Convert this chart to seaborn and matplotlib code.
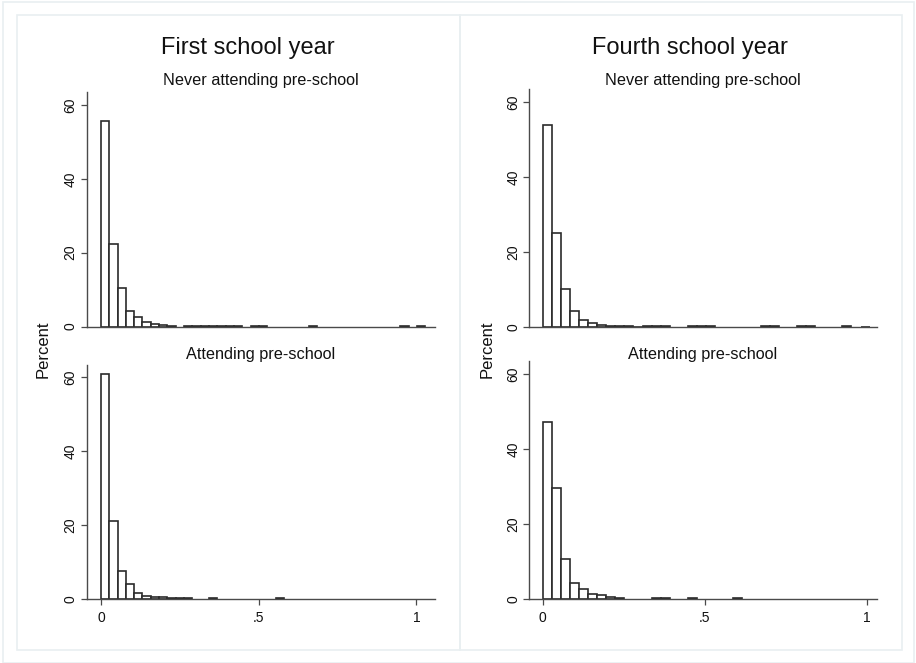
import numpy as np
import pandas as pd
import matplotlib
matplotlib.use("Agg")
import matplotlib.pyplot as plt
from matplotlib.patches import Rectangle
import seaborn as sns

# ---- data: percent of pupils per bin ----
column_titles = ["First school year", "Fourth school year"]
row_titles = ["Never attending pre-school", "Attending pre-school"]

# bin widths (same bins used within a column)
first_bin_width = 0.02636
fourth_bin_width = 0.02803
first_n_bins = 39
fourth_n_bins = 36

first_never = [55.7, 22.4, 10.3, 4.1, 2.6, 1.3, 0.55, 0.3, 0.25, 0.0,
               0.15, 0.1, 0.15, 0.1, 0.1, 0.15, 0.1, 0.0, 0.15, 0.1,
               0.0, 0.0, 0.0, 0.0, 0.0, 0.1, 0.0, 0.0, 0.0, 0.0,
               0.0, 0.0, 0.0, 0.0, 0.0, 0.0, 0.1, 0.0, 0.1]
first_attending = [60.8, 21.1, 7.7, 4.0, 1.5, 0.8, 0.6, 0.5, 0.2, 0.2,
                   0.15, 0.0, 0.0, 0.2, 0.0, 0.0, 0.0, 0.0, 0.0, 0.0,
                   0.0, 0.15, 0.0, 0.0, 0.0, 0.0, 0.0, 0.0, 0.0, 0.0,
                   0.0, 0.0, 0.0, 0.0, 0.0, 0.0, 0.0, 0.0, 0.0]
fourth_never = [53.9, 25.2, 10.2, 4.4, 1.9, 1.2, 0.6, 0.3, 0.2, 0.15,
                0.1, 0.15, 0.15, 0.15, 0.0, 0.0, 0.15, 0.15, 0.15, 0.0,
                0.0, 0.0, 0.0, 0.0, 0.15, 0.15, 0.0, 0.0, 0.15, 0.15,
                0.0, 0.0, 0.0, 0.15, 0.0, 0.05]
fourth_attending = [47.3, 29.7, 10.8, 4.2, 2.8, 1.3, 1.0, 0.6, 0.3, 0.0,
                    0.0, 0.0, 0.2, 0.2, 0.0, 0.0, 0.2, 0.0, 0.0, 0.0,
                    0.0, 0.15, 0.0, 0.0, 0.0, 0.0, 0.0, 0.0, 0.0, 0.0,
                    0.0, 0.0, 0.0, 0.0, 0.0, 0.0]

y_ticks = [0, 20, 40, 60]
x_ticks = [0, 0.5, 1]
x_tick_labels = ["0", ".5", "1"]

# ---- style ----
sns.set_style("ticks")
plt.rcParams["font.family"] = ["Liberation Sans", "DejaVu Sans"]

W, H = 916, 663
fig = plt.figure(figsize=(W / 100, H / 100), dpi=100)
fig.patch.set_facecolor("white")


def rect(x0, y0, x1, y1):
    return [x0 / W, 1 - y1 / H, (x1 - x0) / W, (y1 - y0) / H]


frame_col = "#e9eff1"
fig.patches.append(Rectangle((3 / W, 0), (914 - 3) / W, 1 - 2 / H,
                             transform=fig.transFigure, fill=False,
                             edgecolor=frame_col, lw=1.2))
for (x0, x1) in [(17, 460), (460, 902)]:
    fig.patches.append(Rectangle((x0 / W, 1 - 650 / H), (x1 - x0) / W,
                                 (650 - 15) / H, transform=fig.transFigure,
                                 fill=False, edgecolor=frame_col, lw=1.2))

panels = [
    # column, row, heights, bin width, n bins, axes pixel box, xlim, ylim top
    (0, 0, first_never, first_bin_width, first_n_bins, (86.7, 91.7, 435, 326.5), (-0.045, 1.059), 63.6),
    (0, 1, first_attending, first_bin_width, first_n_bins, (86.7, 365, 435, 599), (-0.045, 1.059), 63.3),
    (1, 0, fourth_never, fourth_bin_width, fourth_n_bins, (529.3, 89, 876.7, 327), (-0.041, 1.031), 63.5),
    (1, 1, fourth_attending, fourth_bin_width, fourth_n_bins, (529.3, 361, 876.7, 599), (-0.041, 1.031), 63.5),
]

spine_col = "#4a4a4a"
bar_edge = "#2b2b2b"

for col, row, heights, bw, nb, box, xlim, ytop in panels:
    ax = fig.add_axes(rect(*box))
    centers = (np.arange(nb) + 0.5) * bw
    df = pd.DataFrame({"value": centers, "pct": heights})
    df = df[df["pct"] > 0]
    sns.histplot(data=df, x="value", weights="pct", binwidth=bw,
                 binrange=(0, nb * bw), ax=ax, stat="count",
                 color="white", alpha=1.0, edgecolor=bar_edge, linewidth=1.2)
    for p in ax.patches:
        if p.get_height() <= 0:
            p.set_visible(False)
    ax.set_xlim(*xlim)
    ax.set_ylim(0, ytop)
    ax.set_xlabel("")
    ax.set_ylabel("")
    ax.set_facecolor("white")
    for s in ["top", "right"]:
        ax.spines[s].set_visible(False)
    for s in ["left", "bottom"]:
        ax.spines[s].set_color(spine_col)
        ax.spines[s].set_linewidth(1.0)
    ax.set_yticks(y_ticks)
    ax.set_yticklabels([str(t) for t in y_ticks], rotation=90, va="center",
                       fontsize=10, color="#111111")
    ax.tick_params(axis="y", length=4.5, width=0.9, color=spine_col, pad=2)
    if row == 1:
        ax.set_xticks(x_ticks)
        ax.set_xticklabels(x_tick_labels, fontsize=10, color="#111111")
        ax.tick_params(axis="x", length=4.5, width=0.9, color=spine_col, pad=4)
    else:
        ax.set_xticks([])
    cx = (box[0] + box[2]) / 2
    sub_y = 81 if row == 0 else 354
    fig.text(cx / W, 1 - sub_y / H, row_titles[row], ha="center", va="center",
             fontsize=11.7, color="#111111")

# column titles and y-axis labels
for cx, title in zip([248, 690], column_titles):
    fig.text(cx / W, 1 - 48 / H, title, ha="center", va="center",
             fontsize=17, color="#111111")
for lx in [43, 487]:
    fig.text(lx / W, 1 - 349 / H, "Percent", ha="center", va="center",
             rotation=90, fontsize=12, color="#111111")

fig.savefig("out.png", dpi=100)
